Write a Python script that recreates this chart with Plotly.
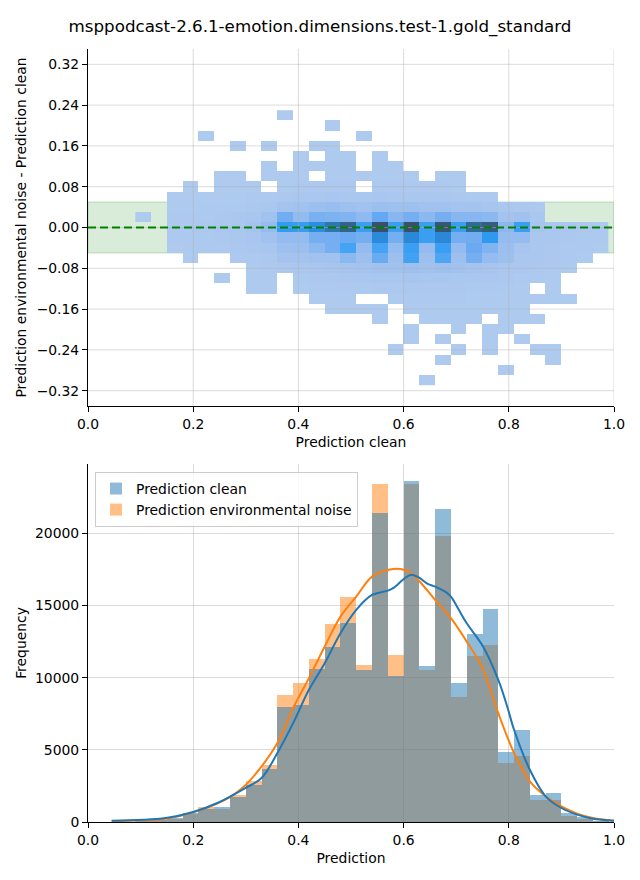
import plotly.graph_objects as go

TITLE = "msppodcast-2.6.1-emotion.dimensions.test-1.gold_standard"

# ---------------- top: 2D histogram (clean vs difference) ----------------
hx_centers = [round(0.105 + 0.03 * j, 3) for j in range(30)]   # bin centres, x
hy_rows = [0.22, 0.20, 0.18, 0.16, 0.14, 0.12, 0.10, 0.08, 0.06, 0.04, 0.02, 0.00,
           -0.02, -0.04, -0.06, -0.08, -0.10, -0.12, -0.14, -0.16, -0.18, -0.20,
           -0.22, -0.24, -0.26, -0.28, -0.30]
#            j: 0 1  2  3  4  5  6  7  8   9  10  11  12  13  14  15  16  17  18  19  20  21  22  23  24  25  26  27  28  29
hist2d = [
    [0,0, 0, 0, 0, 0, 0, 0, 0,   3,  0,  0,  0,  0,  0,  0,  0,  0,  0,  0,  0,  0,  0,  0,  0,  0,  0,  0,  0,  0],
    [0,0, 0, 0, 0, 0, 0, 0, 0,   0,  0,  0,  3,  0,  0,  0,  0,  0,  0,  0,  0,  0,  0,  0,  0,  0,  0,  0,  0,  0],
    [0,0, 0, 0, 3, 0, 0, 0, 0,   0,  0,  0,  0,  0,  3,  0,  0,  0,  0,  0,  0,  0,  0,  0,  0,  0,  0,  0,  0,  0],
    [0,0, 0, 0, 0, 0, 3, 0, 3,   0,  0,  4,  4,  0,  0,  0,  0,  0,  0,  0,  0,  0,  0,  0,  0,  0,  0,  0,  0,  0],
    [0,0, 0, 0, 0, 0, 0, 0, 0,   0,  5,  0,  6,  5,  0,  5,  0,  0,  0,  0,  0,  0,  0,  0,  0,  0,  0,  0,  0,  0],
    [0,0, 0, 0, 0, 0, 0, 0, 5,   0,  8,  6, 10,  8,  0, 10,  6,  0,  0,  0,  0,  0,  0,  0,  0,  0,  0,  0,  0,  0],
    [0,0, 0, 0, 0, 6, 6, 0,10,  12, 15,  0, 20, 18, 12, 25, 20, 12,  0, 10,  8,  0,  0,  0,  0,  0,  0,  0,  0,  0],
    [0,0, 0, 8, 0,10,12,15, 0,  30, 40, 45, 60, 50,  0, 70, 60, 50, 40, 35, 25,  0,  0,  0,  0,  0,  0,  0,  0,  0],
    [0,0,10,15,15,25,30,40,60, 100,150,200,250,200,150,250,200,200,150,150,120, 80, 50,  0,  0,  0,  0,  0,  0,  0],
    [0,0,20,30,40,50,80,120,200,400,500,700,800,600,500,700,600,600,500,500,400,400,300,150,100, 60,  0,  0,  0,  0],
    [3,0,40,60,80,100,150,250,500,1900,1000,1700,1600,1500,1100,2300,1300,1800,1200,1800,1300,1300,1200,400,500,150,0,0,0,0],
    [0,0,60,80,100,150,200,400,900,3500,3400,4000,4700,5300,3300,6000,3300,6000,3300,5800,3300,5100,5500,1200,3300,300,200,150,100,80],
    [0,0,40,60,80,100,150,250,500,900,900,1800,1800,2100,1800,4100,1800,4200,3300,4200,1800,1900,3600,900,900,200,150,100,80,60],
    [0,0,20,40,50,60,100,150,250,600,700,1200,1800,3000,900,3000,900,3300,900,3300,900,2100,1500,700,300,150,100,60,40,30],
    [0,0, 0,10, 0, 0,40,60,100,400,400,500,500,1200,600,2100,600,3100,600,2800,600,1800,900,600,200,150,100,60,30,0],
    [0,0, 0, 0, 0, 0, 0,30,50, 100,200,250,300,350,400,500,500,600,500,600,500,400,300,200,150,100, 60, 30,  0,  0],
    [0,0, 0, 0, 0, 5, 0,20,30,   0, 80,100,120,150,200,250,250,300,250,250,200,200,150,100, 80, 40, 20,  0,  0,  0],
    [0,0, 0, 0, 0, 0, 0, 8,10,   0, 30, 40, 50, 60, 80,100,100,120,100,100,100, 80, 60, 40, 20,  0,  8,  0,  0,  0],
    [0,0, 0, 0, 0, 0, 0, 0, 0,   0,  0, 10, 15, 15,  0,  0, 30, 40, 40, 40, 35, 30, 25, 20, 15, 10,  8,  5,  0,  0],
    [0,0, 0, 0, 0, 0, 0, 0, 0,   0,  0,  0,  5,  6,  6,  8,  0, 15, 15, 15, 12, 12, 10,  8,  6,  0,  0,  0,  0,  0],
    [0,0, 0, 0, 0, 0, 0, 0, 0,   0,  0,  0,  0,  0,  0,  4,  0,  0,  6,  6,  6,  5,  0,  4,  4,  3,  0,  0,  0,  0],
    [0,0, 0, 0, 0, 0, 0, 0, 0,   0,  0,  0,  0,  0,  0,  0,  0,  3,  0,  0,  3,  0,  3,  3,  0,  0,  0,  0,  0,  0],
    [0,0, 0, 0, 0, 0, 0, 0, 0,   0,  0,  0,  0,  0,  0,  0,  0,  2,  0,  2,  0,  0,  2,  0,  2,  0,  0,  0,  0,  0],
    [0,0, 0, 0, 0, 0, 0, 0, 0,   0,  0,  0,  0,  0,  0,  0,  2,  0,  0,  0,  2,  0,  2,  0,  0,  2,  2,  0,  0,  0],
    [0,0, 0, 0, 0, 0, 0, 0, 0,   0,  0,  0,  0,  0,  0,  0,  0,  0,  0,  1,  0,  0,  0,  0,  0,  0,  1,  0,  0,  0],
    [0,0, 0, 0, 0, 0, 0, 0, 0,   0,  0,  0,  0,  0,  0,  0,  0,  0,  0,  0,  0,  0,  0,  1,  0,  0,  0,  0,  0,  0],
    [0,0, 0, 0, 0, 0, 0, 0, 0,   0,  0,  0,  0,  0,  0,  0,  0,  0,  1,  0,  0,  0,  0,  0,  0,  0,  0,  0,  0,  0],
]
top_xticks = [0.0, 0.2, 0.4, 0.6, 0.8, 1.0]
top_yticks = [-0.32, -0.24, -0.16, -0.08, 0.0, 0.08, 0.16, 0.24, 0.32]
tolerance = 0.05

# ---------------- bottom: histograms + KDE ----------------
bin_centers = [round(0.045 + 0.03 * k, 3) for k in range(33)]
clean_counts = [10, 25, 50, 120, 250, 640, 920, 1060, 1750, 2580, 3690, 7980, 8120, 10610,
                12140, 13800, 10500, 21410, 10130, 23620, 10820, 21690, 9640, 13030, 14760,
                4880, 6400, 1850, 2020, 650, 350, 90, 20]
noise_counts = [10, 25, 55, 130, 240, 540, 1060, 920, 1850, 2860, 3970, 8810, 9640, 11300,
                13730, 15600, 10890, 23420, 11580, 23420, 10500, 19820, 8670, 11510, 12270,
                4110, 4590, 1530, 1540, 420, 210, 70, 15]

kde_clean_x = [0.045, 0.148, 0.20, 0.246, 0.299, 0.33, 0.36, 0.39, 0.42, 0.45, 0.48, 0.51,
               0.54, 0.57, 0.58, 0.60, 0.613, 0.628, 0.646, 0.66, 0.679, 0.69, 0.705, 0.72,
               0.751, 0.78, 0.797, 0.81, 0.84, 0.87, 0.90, 0.93, 0.96, 1.0]
kde_clean_y = [90, 280, 690, 1315, 2350, 3050, 4780, 6850, 9160, 11000, 13080, 14700,
               15730, 16030, 16200, 16820, 17120, 16960, 16500, 16310, 15960, 15620, 14700, 13770,
               12160, 9850, 8000, 6390, 3620, 1780, 970, 510, 230, 90]
kde_noise_x = [0.045, 0.148, 0.20, 0.27, 0.30, 0.33, 0.36, 0.39, 0.42, 0.45, 0.48, 0.51,
               0.54, 0.57, 0.594, 0.613, 0.628, 0.66, 0.69, 0.72, 0.75, 0.78, 0.81, 0.84,
               0.87, 0.90, 0.93, 0.96, 1.0]
kde_noise_y = [70, 230, 670, 1730, 2580, 3850, 5470, 7890, 9970, 12160, 14230, 15620,
               17000, 17460, 17530, 17280, 16770, 15390, 14120, 12500, 10660, 7540, 4780, 2810,
               1780, 1080, 580, 280, 90]
bottom_yticks = [0, 5000, 10000, 15000, 20000]

# ---------------- styling ----------------
FONT = "DejaVu Sans"
TICK_SIZE = 13.9
GRID = "rgba(176,176,176,0.45)"
BLUE = "#1f77b4"
ORANGE = "#ff7f0e"

# the page body adds an 8 px offset, so the figure is 8 px smaller on each axis
W, H = 632, 872
ML, MT, MR, MB = 80, 41, 26, 58
PH = H - MT - MB  # plot-area height (773)

colorscale = [
    [0.00, "#aecaef"], [0.08, "#a2c2ef"], [0.20, "#8cb8f0"], [0.35, "#6aaaf1"],
    [0.50, "#45a3f4"], [0.60, "#2e9aef"], [0.70, "#2a88d6"], [0.82, "#30709f"],
    [0.92, "#385a80"], [1.00, "#3c4f6a"],
]

fig = go.Figure()

z = [[(v if v > 0 else None) for v in row] for row in hist2d[::-1]]
fig.add_trace(go.Heatmap(
    x=hx_centers, y=hy_rows[::-1], z=z, colorscale=colorscale,
    zmin=1, zmax=max(max(r) for r in hist2d), showscale=False,
    xaxis="x", yaxis="y", hoverongaps=False,
))

# bottom: noise drawn first (below), clean on top
fig.add_trace(go.Bar(
    x=bin_centers, y=noise_counts, width=0.03, name="Prediction environmental noise",
    marker=dict(color="rgba(255,127,14,0.5)", line=dict(width=0)),
    xaxis="x2", yaxis="y2", legendrank=2,
))
fig.add_trace(go.Bar(
    x=bin_centers, y=clean_counts, width=0.03, name="Prediction clean",
    marker=dict(color="rgba(31,119,180,0.5)", line=dict(width=0)),
    xaxis="x2", yaxis="y2", legendrank=1,
))
fig.add_trace(go.Scatter(
    x=kde_noise_x, y=kde_noise_y, mode="lines", line=dict(color=ORANGE, width=2, shape="spline"),
    xaxis="x2", yaxis="y2", showlegend=False,
))
fig.add_trace(go.Scatter(
    x=kde_clean_x, y=kde_clean_y, mode="lines", line=dict(color=BLUE, width=2, shape="spline"),
    xaxis="x2", yaxis="y2", showlegend=False,
))

shapes = []
# tolerance band (behind)
shapes.append(dict(type="rect", xref="x", yref="y", x0=0, x1=1, y0=-tolerance, y1=tolerance,
                   fillcolor="rgba(0,128,0,0.15)", line=dict(color="rgba(0,128,0,0.15)", width=1.5),
                   layer="below"))
# grid of the top panel drawn above the heatmap cells
for xv in top_xticks[1:]:
    shapes.append(dict(type="line", xref="x", yref="y", x0=xv, x1=xv, y0=-0.35, y1=0.35,
                       line=dict(color=GRID, width=1), layer="above"))
for yv in top_yticks:
    shapes.append(dict(type="line", xref="x", yref="y", x0=0, x1=1, y0=yv, y1=yv,
                       line=dict(color=GRID, width=1), layer="above"))
# zero line
shapes.append(dict(type="line", xref="x", yref="y", x0=0, x1=1, y0=0, y1=0,
                   line=dict(color="green", width=2, dash="8px,4px"), layer="above"))

axis_common = dict(
    showline=True, linecolor="black", linewidth=1, ticks="outside", ticklen=5, tickwidth=1,
    tickcolor="black", tickfont=dict(family=FONT, size=TICK_SIZE, color="black"),
    zeroline=False, mirror=False,
)

top_dom = [416 / PH, 1.0]
bot_dom = [0.0, 358 / PH]

fig.update_layout(
    width=W, height=H,
    margin=dict(l=ML, r=MR, t=MT, b=MB, autoexpand=False),
    paper_bgcolor="white", plot_bgcolor="white",
    font=dict(family=FONT, size=TICK_SIZE, color="black"),
    title=dict(text=TITLE, x=0.5 - 4 / W, xref="container", xanchor="center",
               y=1 - 18 / H, yref="container", yanchor="middle",
               font=dict(family=FONT, size=16.7, color="black")),
    barmode="overlay", bargap=0,
    shapes=shapes,
    showlegend=True,
    legend=dict(x=(95 - 88) / 526, y=(822 - 472) / PH, xanchor="left", yanchor="top",
                xref="paper", yref="paper",
                bgcolor="rgba(255,255,255,0.8)", bordercolor="#cccccc", borderwidth=1,
                font=dict(family=FONT, size=TICK_SIZE, color="black"),
                tracegroupgap=0, itemwidth=30),
    xaxis=dict(axis_common, domain=[0, 1], anchor="y", range=[0, 1],
               tickvals=top_xticks, ticktext=[f"{v:.1f}" for v in top_xticks],
               showgrid=False,
               title=dict(text="Prediction clean", standoff=6,
                          font=dict(family=FONT, size=TICK_SIZE))),
    yaxis=dict(axis_common, domain=top_dom, anchor="x", range=[-0.35, 0.35],
               tickvals=top_yticks,
               ticktext=[f"{v:.2f}".replace("-", "\u2212") for v in top_yticks],
               showgrid=False,
               title=dict(text="Prediction environmental noise - Prediction clean", standoff=6,
                          font=dict(family=FONT, size=TICK_SIZE))),
    xaxis2=dict(axis_common, domain=[0, 1], anchor="y2", range=[0, 1],
                tickvals=top_xticks, ticktext=[f"{v:.1f}" for v in top_xticks],
                showgrid=True, gridcolor=GRID, gridwidth=1,
                title=dict(text="Prediction", standoff=6,
                           font=dict(family=FONT, size=TICK_SIZE))),
    yaxis2=dict(axis_common, domain=bot_dom, anchor="x2", range=[0, 24805],
                tickvals=bottom_yticks, ticktext=[str(v) for v in bottom_yticks],
                showgrid=True, gridcolor=GRID, gridwidth=1,
                title=dict(text="Frequency", standoff=5,
                           font=dict(family=FONT, size=TICK_SIZE))),
)

fig.write_html("out.html")
